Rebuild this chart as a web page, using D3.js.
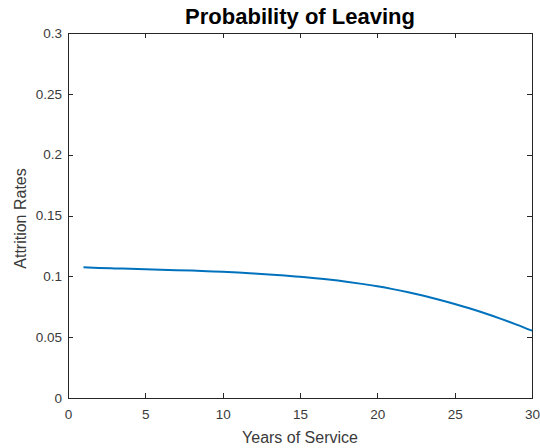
<!DOCTYPE html>
<html>
<head>
<meta charset="utf-8">
<script src="https://cdn.jsdelivr.net/npm/d3@7"></script>
<style>
  html, body { margin: 0; padding: 0; background: #fff; }
  svg { display: block; font-family: "Liberation Sans", Arial, Helvetica, sans-serif; }
</style>
</head>
<body>
<svg id="chart" width="540" height="448"></svg>
<script>
// Attrition rate by completed years of service
const years = [1, 2, 3, 4, 5, 6, 7, 8, 9, 10,
               11, 12, 13, 14, 15, 16, 17, 18, 19, 20,
               21, 22, 23, 24, 25, 26, 27, 28, 29, 30];
const attrition = [0.1074, 0.1069, 0.1065, 0.1062, 0.1058, 0.1055, 0.1051, 0.1047, 0.1042, 0.1037,
                   0.1031, 0.1024, 0.1016, 0.1007, 0.0996, 0.0985, 0.0972, 0.0956, 0.0938, 0.0918,
                   0.0895, 0.0869, 0.0840, 0.0808, 0.0773, 0.0735, 0.0694, 0.0650, 0.0603, 0.0553];
const xTicks = [0, 5, 10, 15, 20, 25, 30];
const yTicks = [0, 0.05, 0.1, 0.15, 0.2, 0.25, 0.3];
const xDomain = [0, 30];
const yDomain = [0, 0.3];

const svg = d3.select("#chart");
const m = { left: 68, right: 532, top: 33, bottom: 398 };
const axisColor = "#262626";
const textColor = "#3a3a3a";
const tickLen = 5;

const x = d3.scaleLinear().domain(xDomain).range([m.left, m.right]);
const y = d3.scaleLinear().domain(yDomain).range([m.bottom, m.top]);

// Box around the plotting area
svg.append("rect")
  .attr("x", m.left).attr("y", m.top)
  .attr("width", m.right - m.left).attr("height", m.bottom - m.top)
  .attr("fill", "none").attr("stroke", axisColor).attr("stroke-width", 1)
  .attr("shape-rendering", "crispEdges");

function styleAxis(g) {
  g.select(".domain").remove();
  g.selectAll(".tick line").attr("stroke", axisColor).attr("shape-rendering", "crispEdges");
  g.selectAll(".tick text").attr("fill", textColor).attr("font-size", 13.5)
    .attr("font-family", "'Liberation Sans', Arial, sans-serif");
}

// Bottom axis with inward ticks
svg.append("g")
  .attr("transform", `translate(0,${m.bottom})`)
  .call(d3.axisBottom(x).tickValues(xTicks).tickFormat(d3.format("d"))
    .tickSizeInner(-tickLen).tickSizeOuter(0).tickPadding(11))
  .call(styleAxis);

// Top axis: ticks only
svg.append("g")
  .attr("transform", `translate(0,${m.top})`)
  .call(d3.axisTop(x).tickValues(xTicks).tickFormat("")
    .tickSizeInner(-tickLen).tickSizeOuter(0))
  .call(styleAxis);

// Left axis with inward ticks
svg.append("g")
  .attr("transform", `translate(${m.left},0)`)
  .call(d3.axisLeft(y).tickValues(yTicks).tickFormat(d => d3.format("")(+d.toFixed(2)))
    .tickSizeInner(-tickLen).tickSizeOuter(0).tickPadding(6))
  .call(styleAxis);

// Right axis: ticks only
svg.append("g")
  .attr("transform", `translate(${m.right},0)`)
  .call(d3.axisRight(y).tickValues(yTicks).tickFormat("")
    .tickSizeInner(-tickLen).tickSizeOuter(0))
  .call(styleAxis);

// Attrition curve
const line = d3.line()
  .x((d, i) => x(years[i]))
  .y(d => y(d))
  .curve(d3.curveMonotoneX);

svg.append("path")
  .datum(attrition)
  .attr("d", line)
  .attr("fill", "none")
  .attr("stroke", "#0072BD")
  .attr("stroke-width", 2)
  .attr("stroke-linejoin", "round");

// Title and axis labels
svg.append("text")
  .attr("x", (m.left + m.right) / 2).attr("y", 24)
  .attr("text-anchor", "middle")
  .attr("font-size", 22).attr("font-weight", "bold").attr("fill", "#000")
  .text("Probability of Leaving");

svg.append("text")
  .attr("x", (m.left + m.right) / 2).attr("y", 443)
  .attr("text-anchor", "middle")
  .attr("font-size", 16).attr("fill", textColor)
  .text("Years of Service");

svg.append("text")
  .attr("transform", `translate(26,${(m.top + m.bottom) / 2 + 3}) rotate(-90)`)
  .attr("text-anchor", "middle")
  .attr("font-size", 16).attr("fill", textColor)
  .text("Attrition Rates");
</script>
</body>
</html>
